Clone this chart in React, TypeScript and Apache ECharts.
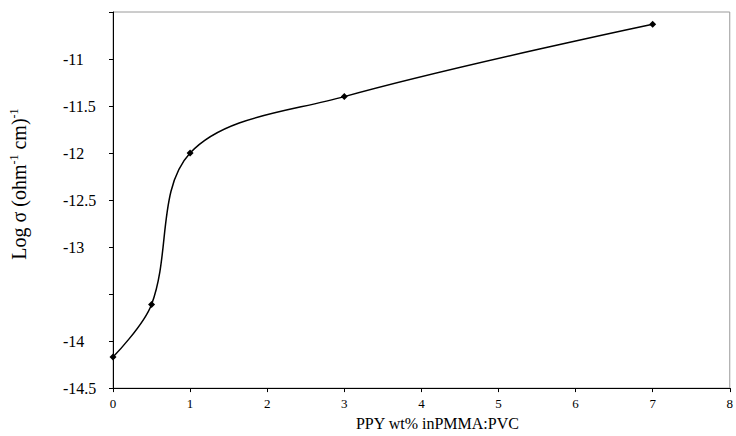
import React, { useEffect, useRef } from "react";
import * as echarts from "echarts";

const xValues = [0, 0.5, 1, 3, 7];
const yValues = [-14.17, -13.61, -12.0, -11.4, -10.63];
const hiddenYLabels = [-10.5, -13.5];

const FONT = "Liberation Serif";

export default function App() {
  const ref = useRef<HTMLDivElement>(null);
  useEffect(() => {
    if (!ref.current) return;
    const chart = echarts.init(ref.current, undefined, { renderer: "svg" });
    chart.setOption({
      animation: false,
      backgroundColor: "#ffffff",
      textStyle: { fontFamily: FONT },
      grid: {
        left: 113,
        right: 3,
        top: 12,
        bottom: 46,
        show: true,
        borderColor: "#9a9a9a",
        borderWidth: 1,
      },
      xAxis: {
        type: "value",
        min: 0,
        max: 8,
        interval: 1,
        name: "PPY wt% inPMMA:PVC",
        nameLocation: "middle",
        nameGap: 26,
        nameTextStyle: {
          fontFamily: FONT,
          fontSize: 16,
          color: "#000",
          padding: [0, 0, 0, 32],
        },
        axisLine: { show: true, lineStyle: { color: "#000", width: 1 } },
        axisTick: { show: true, length: 4, lineStyle: { color: "#000" } },
        axisLabel: { fontFamily: FONT, fontSize: 13, color: "#000", margin: 9 },
        splitLine: { show: false },
      },
      yAxis: {
        type: "value",
        min: -14.5,
        max: -10.5,
        interval: 0.5,
        name: "Log σ (ohm{sup|-1} cm){sup|-1}",
        nameLocation: "middle",
        nameRotate: 90,
        nameGap: 84,
        nameTextStyle: {
          fontFamily: FONT,
          fontSize: 20,
          color: "#000",
          padding: [0, 0, 0, 32],
          rich: {
            sup: {
              fontFamily: FONT,
              fontSize: 12,
              color: "#000",
              verticalAlign: "top",
              padding: [0, 0, 9, 0],
            },
          },
        },
        axisLine: { show: true, lineStyle: { color: "#000", width: 1 } },
        axisTick: { show: true, length: 4, lineStyle: { color: "#000" } },
        axisLabel: {
          fontFamily: FONT,
          fontSize: 16,
          color: "#000",
          align: "left",
          margin: 50,
          formatter: (v: number) =>
            hiddenYLabels.some((h) => Math.abs(h - v) < 1e-9) ? "" : String(v),
        },
        splitLine: { show: false },
      },
      series: [
        {
          type: "line",
          data: xValues.map((x, i) => [x, yValues[i]]),
          smooth: 0.35,
          symbol: "diamond",
          symbolSize: 7,
          lineStyle: { color: "#000", width: 1.5 },
          itemStyle: { color: "#000" },
        },
      ],
    });
    return () => chart.dispose();
  }, []);
  return (
    <div
      ref={ref}
      style={{ position: "absolute", left: 0, top: 0, width: 736, height: 436 }}
    />
  );
}
